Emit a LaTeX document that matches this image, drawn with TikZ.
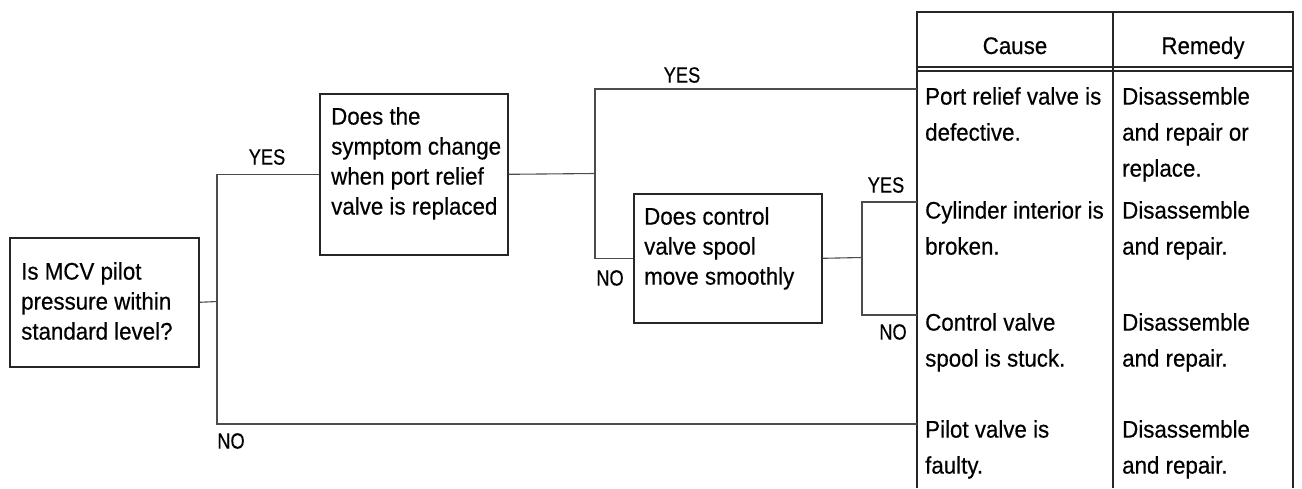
\documentclass[tikz,border=0pt]{standalone}
\usepackage{fontspec}
\setmainfont{Liberation Sans}[FakeStretch=0.93,FakeBold=0.4]
\newfontfamily\lblfont{Liberation Sans}[FakeStretch=0.83,FakeBold=0.4]
\usepackage{tikz}

\begin{document}
\begin{tikzpicture}[x=1pt,y=-1pt,
  box/.style={draw=black!85,line width=1.6pt,inner sep=0pt,anchor=north west},
  boxtext/.style={anchor=north west,inner sep=0pt,align=left,font=\fontsize{24}{30}\selectfont},
  celltext/.style={anchor=north west,inner sep=0pt,align=left,font=\fontsize{24}{36}\selectfont},
  yn/.style={inner sep=0pt,font=\lblfont\fontsize{22}{22}\selectfont},
  wire/.style={draw=black!70,line width=1.1pt},
  rule/.style={draw=black!85,line width=1.5pt}]
\useasboundingbox (0,0) rectangle (1302,488);

% question boxes
\node[box,minimum width=189pt,minimum height=129pt] (chkMCV) at (9,237) {};
\node[boxtext] (txtMCV) at (21,262) {Is MCV pilot\\pressure within\\standard level?};
\node[box,minimum width=188pt,minimum height=161pt] (chkPRV) at (319,93) {};
\node[boxtext] (txtPRV) at (331,107) {Does the\\symptom change\\when port relief\\valve is replaced};
\node[box,minimum width=188pt,minimum height=129pt] (chkSpool) at (633,193) {};
\node[boxtext] (txtSpool) at (644,207) {Does control\\valve spool\\move smoothly};

% table
\draw[rule] (917,488) -- (917,12) -- (1293,12) -- (1293,488);
\draw[rule] (1113,12) -- (1113,488);
\draw[rule] (917,67) -- (1293,67);
\draw[rule] (917,71) -- (1293,71);
\node[anchor=base,inner sep=0pt,font=\fontsize{24}{36}\selectfont] (hdCause) at (1015,54) {Cause};
\node[anchor=base,inner sep=0pt,font=\fontsize{24}{36}\selectfont] (hdRemedy) at (1203,54) {Remedy};

\coordinate (inPRV) at (917,89);
\coordinate (inCyl) at (917,202);
\coordinate (inSpool) at (917,315);
\coordinate (inPilot) at (917,424);

\node[celltext] (causePRV) at (925,87) {Port relief valve is\\defective.};
\node[celltext] (fixPRV) at (1122,87) {Disassemble\\and repair or\\replace.};
\node[celltext] (causeCyl) at (925,201) {Cylinder interior is\\broken.};
\node[celltext] (fixCyl) at (1122,201) {Disassemble\\and repair.};
\node[celltext] (causeSpool) at (925,313) {Control valve\\spool is stuck.};
\node[celltext] (fixSpool) at (1122,313) {Disassemble\\and repair.};
\node[celltext] (causePilot) at (925,420) {Pilot valve is\\faulty.};
\node[celltext] (fixPilot) at (1122,420) {Disassemble\\and repair.};

% branches
\coordinate (j1) at (217,301.5);
\coordinate (j2) at (595,173.5);
\coordinate (j3) at (862,257.5);
\draw[wire] (chkMCV.east) -- (j1);
\draw[wire] (j1) |- (chkPRV.west);
\draw[wire] (j1) |- (inPilot);
\draw[wire] (chkPRV.east) -- (j2);
\draw[wire] (j2) |- (inPRV);
\draw[wire] (j2) |- (chkSpool.west);
\draw[wire] (chkSpool.east) -- (j3);
\draw[wire] (j3) |- (inCyl);
\draw[wire] (j3) |- (inSpool);

% yes/no labels
\node[yn] (y1) at (267,157) {YES};
\node[yn] (n1) at (231,441) {NO};
\node[yn] (y2) at (682,75) {YES};
\node[yn] (n2) at (610,278) {NO};
\node[yn] (y3) at (886,185) {YES};
\node[yn] (n3) at (893,332) {NO};
\end{tikzpicture}
\end{document}
